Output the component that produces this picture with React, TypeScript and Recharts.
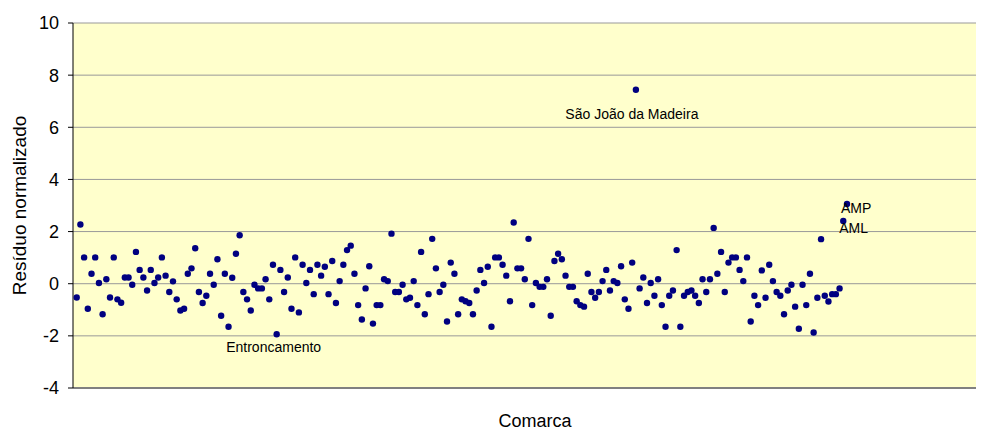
import { ScatterChart, Scatter, XAxis, YAxis, CartesianGrid } from 'recharts';

// normalised residual per comarca, in the order plotted
const residuos: number[] = [
  -0.53, 2.27, 1.01, -0.96, 0.38, 1.01, 0.03, -1.17, 0.17, -0.53,
  1.01, -0.6, -0.73, 0.24, 0.24, -0.04, 1.22, 0.53, 0.24, -0.26,
  0.53, 0.03, 0.24, 1.01, 0.31, -0.32, 0.09, -0.6, -1.03, -0.96,
  0.38, 0.59, 1.36, -0.32, -0.74, -0.46, 0.38, -0.04, 0.94, -1.23,
  0.38, -1.65, 0.23, 1.15, 1.86, -0.32, -0.6, -1.03, -0.04, -0.18,
  -0.18, 0.17, -0.6, 0.73, -1.94, 0.53, -0.32, 0.24, -0.96, 1.01,
  -1.1, 0.73, 0.03, 0.53, -0.4, 0.73, 0.31, 0.65, -0.4, 0.87,
  -0.74, 0.1, 0.73, 1.29, 1.46, 0.38, -0.82, -1.37, -0.18, 0.67,
  -1.53, -0.82, -0.82, 0.17, 0.1, 1.92, -0.32, -0.32, -0.04, -0.6,
  -0.54, 0.1, -0.82, 1.22, -1.17, -0.4, 1.72, 0.59, -0.32, -0.04,
  -1.45, 0.81, 0.38, -1.17, -0.6, -0.67, -0.74, -1.17, -0.26, 0.53,
  0.03, 0.65, -1.65, 1.01, 1.01, 0.73, 0.31, -0.67, 2.35, 0.59,
  0.59, 0.17, 1.72, -0.82, 0.03, -0.12, -0.12, 0.17, -1.23, 0.87,
  1.15, 0.94, 0.31, -0.12, -0.12, -0.67, -0.82, -0.88, 0.38, -0.32,
  -0.54, -0.32, 0.1, 0.53, -0.26, 0.1, 0.03, 0.67, -0.6, -0.96,
  0.81, 7.44, -0.18, 0.24, -0.74, 0.03, -0.46, 0.17, -0.82, -1.65,
  -0.46, -0.26, 1.29, -1.65, -0.46, -0.32, -0.26, -0.46, -0.74, 0.17,
  -0.32, 0.17, 2.14, 0.38, 1.22, -0.32, 0.81, 1.01, 1.01, 0.53,
  0.1, 1.01, -1.45, -0.46, -0.82, 0.51, -0.54, 0.73, 0.1, -0.32,
  -0.46, -1.17, -0.26, -0.04, -0.88, -1.73, -0.04, -0.82, 0.38, -1.87,
  -0.54, 1.71, -0.46, -0.68, -0.4, -0.4, -0.18, 2.41, 3.06,
];

// named comarcas (1-based position in the series)
const assinaladas = [
  { posicao: 55, nome: 'Entroncamento' },
  { posicao: 152, nome: 'São João da Madeira' },
  { posicao: 208, nome: 'AML' },
  { posicao: 209, nome: 'AMP' },
];

const yTicks = [-4, -2, 0, 2, 4, 6, 8, 10];

// where each name sits relative to its dot
const labelPos: Record<string, { dx: number; dy: number; anchor: 'start' | 'middle' }> = {
  Entroncamento: { dx: -3, dy: 18, anchor: 'middle' },
  'São João da Madeira': { dx: -4, dy: 29, anchor: 'middle' },
  AML: { dx: -4, dy: 12, anchor: 'start' },
  AMP: { dx: -6, dy: 9, anchor: 'start' },
};

const data = residuos.map((r, i) => ({
  comarca: i + 1,
  residuo: r,
  nome: assinaladas.find((a) => a.posicao === i + 1)?.nome,
}));

const font = '"Liberation Sans", Arial, sans-serif';

function Ponto(props: any) {
  const { cx, cy, payload } = props;
  const pos = payload.nome ? labelPos[payload.nome] : null;
  return (
    <g>
      <circle cx={cx} cy={cy} r={3.2} fill="#000080" />
      {pos && (
        <text x={cx + pos.dx} y={cy + pos.dy} textAnchor={pos.anchor} fontSize={14} fontFamily={font} fill="#000">
          {payload.nome}
        </text>
      )}
    </g>
  );
}

function TituloY({ viewBox }: any) {
  const x = viewBox.x + 11;
  const y = viewBox.y + viewBox.height / 2;
  return (
    <text x={x} y={y} transform={`rotate(-90 ${x} ${y})`} textAnchor="middle" dominantBaseline="central"
      fontSize={19} fontFamily={font} fill="#000">
      Resíduo normalizado
    </text>
  );
}

function TituloX({ viewBox }: any) {
  return (
    <text x={viewBox.x + viewBox.width / 2 + 6.5} y={viewBox.y + 39} textAnchor="middle"
      fontSize={18} fontFamily={font} fill="#000">
      Comarca
    </text>
  );
}

export default function App() {
  return (
    <ScatterChart width={976} height={424} margin={{ top: 15, right: 0, bottom: 0, left: 0 }}>
      <CartesianGrid vertical={false} stroke="#999" fill="#FFFFCC" fillOpacity={1} />
      <XAxis type="number" dataKey="comarca" domain={[0, 246]} tick={false} tickLine={false}
        axisLine={{ stroke: '#808080', strokeWidth: 2 }} height={44} label={<TituloX />} />
      <YAxis type="number" dataKey="residuo" domain={[-4, 10]} ticks={yTicks} interval={0} width={65}
        tickSize={5} tickMargin={9} axisLine={{ stroke: '#000' }} tickLine={{ stroke: '#000' }}
        tick={{ fill: '#000', fontSize: 18, fontFamily: font }} label={<TituloY />} />
      <Scatter data={data} shape={<Ponto />} isAnimationActive={false} />
    </ScatterChart>
  );
}
